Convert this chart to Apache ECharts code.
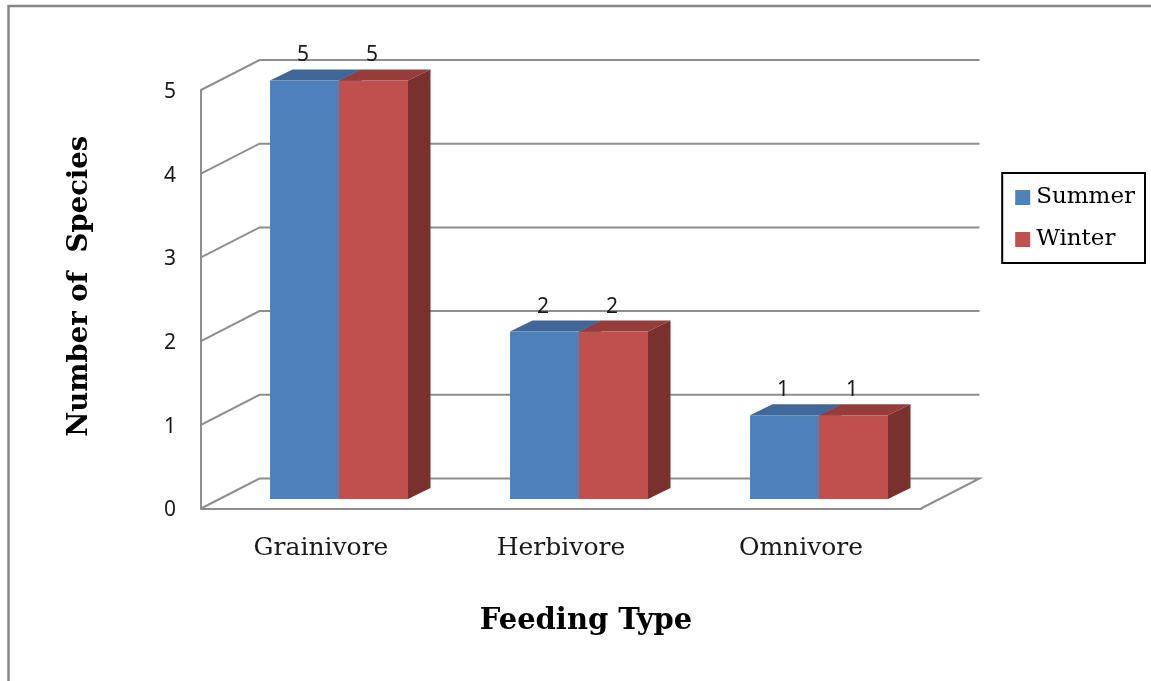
<!DOCTYPE html>
<html>
<head>
<meta charset="utf-8">
<style>html,body{margin:0;padding:0;background:#fff}#c{width:1151px;height:681px}</style>
<script src="https://cdn.jsdelivr.net/npm/echarts@6/dist/echarts.min.js"></script>
</head>
<body>
<div id="c"></div>
<script>
const categories = ['Grainivore', 'Herbivore', 'Omnivore'];
const summer = [5, 2, 1];
const winter = [5, 2, 1];
const yTicks = [0, 1, 2, 3, 4, 5];

const chart = echarts.init(document.getElementById('c'), null, { renderer: 'canvas' });
const serif = '"DejaVu Serif", serif';
const WALL = { x: 58.5, y: -30 };
const INSET = { x: 18, y: -9.5 };
const DEPTH = { x: 22.5, y: -11 };
const BAR_FRAC = 0.2875;
const GRID_COLOR = '#8e8e8e';

function barSeries(name, values, front, top, side, dir) {
  return {
    name, type: 'custom', z: 5,
    coordinateSystem: 'cartesian2d',
    itemStyle: { color: front },
    encode: { x: 0, y: 1 },
    data: values.map((v, i) => [i, v]),
    renderItem(params, api) {
      const v = api.value(1);
      const p = api.coord([api.value(0), v]);
      const base = api.coord([api.value(0), 0]);
      const w = api.size([1, 0])[0] * BAR_FRAC;
      const cx = p[0] + INSET.x;
      const x0 = dir < 0 ? cx - w : cx;
      const x1 = x0 + w;
      const yT = p[1] + INSET.y;
      const yB = base[1] + INSET.y;
      const poly = (pts, fill) => ({ type: 'polygon', shape: { points: pts }, style: { fill } });
      return {
        type: 'group',
        children: [
          poly([[x0, yT], [x1, yT], [x1 + DEPTH.x, yT + DEPTH.y], [x0 + DEPTH.x, yT + DEPTH.y]], top),
          poly([[x1, yT], [x1 + DEPTH.x, yT + DEPTH.y], [x1 + DEPTH.x, yB + DEPTH.y], [x1, yB]], side),
          { type: 'rect', shape: { x: x0, y: yT, width: w, height: yB - yT }, style: { fill: front } },
          { type: 'text', z2: 20, style: {
              text: String(v), x: (x0 + x1) / 2 - 1.5, y: yT - 25,
              align: 'center', verticalAlign: 'middle',
              fill: '#1a1a1a', font: '21px "Noto Sans", sans-serif' } }
        ]
      };
    }
  };
}

chart.setOption({
  animation: false,
  backgroundColor: '#fff',
  grid: [
    { left: 201, top: 90, width: 720, height: 418.5 },
    { left: 201, top: 92, width: 720, height: 418.5 }
  ],
  graphic: [{
    type: 'polyline', silent: true,
    shape: { points: [[8.5, 681], [8.5, 6], [1151, 6]] },
    style: { stroke: '#878787', lineWidth: 2.5, fill: 'none' }
  }],
  legend: {
    orient: 'vertical', right: 6, top: 173,
    backgroundColor: '#fff',
    borderColor: '#000', borderWidth: 2, borderRadius: 0,
    padding: [13, 10, 12, 13],
    itemWidth: 15, itemHeight: 15, itemGap: 19,
    icon: 'rect',
    data: ['Summer', 'Winter'],
    textStyle: { fontFamily: serif, fontSize: 23, color: '#000', padding: [0, 0, 0, 1] }
  },
  xAxis: [{
    type: 'category', data: categories,
    axisLine: { lineStyle: { color: GRID_COLOR, width: 2 } },
    axisTick: { show: false },
    axisLabel: { fontFamily: serif, fontSize: 25, color: '#1a1a1a', margin: 27 },
    name: 'Feeding Type', nameLocation: 'middle', nameGap: 98,
    nameTextStyle: { fontFamily: serif, fontWeight: 'bold', fontSize: 29, color: '#000', padding: [0, 0, 0, 50] }
  }, {
    gridIndex: 1, type: 'category', data: categories, show: false
  }],
  yAxis: [{
    type: 'value', min: 0, max: 5, interval: 1,
    axisLine: { show: true, lineStyle: { color: GRID_COLOR, width: 2 } },
    axisTick: { show: false },
    splitLine: { show: false },
    axisLabel: { show: false },
    name: 'Number of  Species', nameLocation: 'middle', nameGap: 107, nameRotate: 90,
    nameTextStyle: { fontFamily: serif, fontWeight: 'bold', fontSize: 27.5, color: '#000', padding: [0, 0, 0, 26] }
  }, {
    gridIndex: 1, type: 'value', min: 0, max: 5, interval: 1,
    axisLine: { show: false },
    axisTick: { show: false },
    splitLine: { show: false },
    axisLabel: { fontFamily: '"Noto Sans", sans-serif', fontSize: 21, color: '#1a1a1a', margin: 25 }
  }],
  series: [
    {
      type: 'custom', z: 1, silent: true,
      coordinateSystem: 'cartesian2d',
      encode: { y: 0 },
      data: yTicks.map(v => [v]),
      renderItem(params, api) {
        const v = api.value(0);
        const cs = params.coordSys;
        const y = api.coord([0, v])[1];
        const pts = [[cs.x, y], [cs.x + WALL.x, y + WALL.y], [cs.x + cs.width + WALL.x, y + WALL.y]];
        if (v === 0) pts.push([cs.x + cs.width, y]);
        return {
          type: 'polyline', shape: { points: pts },
          style: { stroke: GRID_COLOR, lineWidth: 2, fill: 'none' }
        };
      }
    },
    barSeries('Summer', summer, '#4f81bd', '#3f6797', '#325378', -1),
    barSeries('Winter', winter, '#c0504d', '#963c3a', '#7a302f', 1)
  ]
});
</script>
</body>
</html>
